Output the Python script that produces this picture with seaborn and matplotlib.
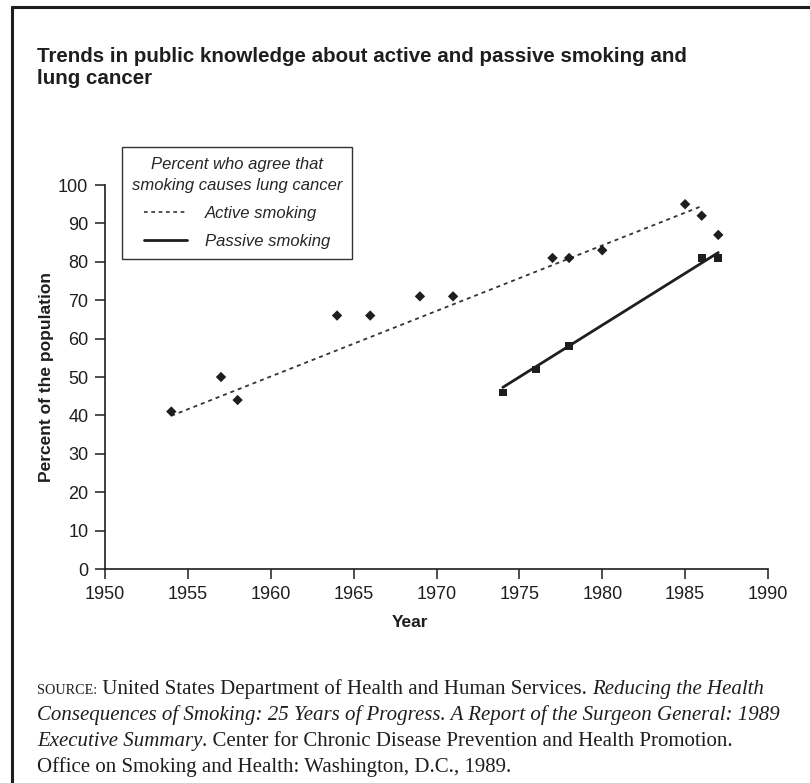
import matplotlib
matplotlib.use("Agg")
import matplotlib.pyplot as plt
import matplotlib.lines as mlines
import seaborn as sns
import pandas as pd

# --- data ---
active_years = [1954, 1957, 1958, 1964, 1966, 1969, 1971, 1977, 1978, 1980, 1985, 1986, 1987]
active_pct = [41, 50, 44, 66, 66, 71, 71, 81, 81, 83, 95, 92, 87]
passive_years = [1974, 1976, 1978, 1986, 1987]
passive_pct = [46, 52, 58, 81, 81]

# trend lines as drawn in the original figure
active_trend_years = [1954, 1986]
active_trend_pct = [39.9, 94.5]
passive_trend_years = [1974, 1987]
passive_trend_pct = [47.3, 82.4]

x_ticks = [1950, 1955, 1960, 1965, 1970, 1975, 1980, 1985, 1990]
y_ticks = [0, 10, 20, 30, 40, 50, 60, 70, 80, 90, 100]

title = "Trends in public knowledge about active and passive smoking and\nlung cancer"
legend_title = "Percent who agree that\nsmoking causes lung cancer"
source_lines = [
    [("SOURCE:", "sc"), (" United States Department of Health and Human Services. ", "normal"),
     ("Reducing the Health", "italic")],
    [("Consequences of Smoking: 25 Years of Progress. A Report of the Surgeon General: 1989", "italic")],
    [("Executive Summary", "italic"), (". Center for Chronic Disease Prevention and Health Promotion.", "normal")],
    [("Office on Smoking and Health: Washington, D.C., 1989.", "normal")],
]

active = pd.DataFrame({"year": active_years, "pct": active_pct})
passive = pd.DataFrame({"year": passive_years, "pct": passive_pct})

sns.set_style("ticks")
sans = ["Liberation Sans", "DejaVu Sans"]
serif = ["Liberation Serif", "DejaVu Serif"]
plt.rcParams["font.family"] = sans
ink = "#1e1e1e"

W, H = 810, 783
fig = plt.figure(figsize=(W / 100, H / 100), dpi=100)
ax = fig.add_axes([105 / W, 1 - 569 / H, 663 / W, 384 / H])

# trend lines
sns.lineplot(x=active_trend_years, y=active_trend_pct, ax=ax, color="#333333",
             linewidth=1.3, linestyle=(0, (2.2, 2.2)))
sns.lineplot(x=passive_trend_years, y=passive_trend_pct, ax=ax, color=ink, linewidth=2.0)

# observations
sns.scatterplot(data=active, x="year", y="pct", ax=ax, marker="D", s=28,
                color=ink, edgecolor="none", zorder=3)
sns.scatterplot(data=passive, x="year", y="pct", ax=ax, marker="s", s=30,
                color=ink, edgecolor="none", zorder=3)

ax.set_xlim(1950, 1990)
ax.set_ylim(0, 100)
ax.set_xticks(x_ticks)
ax.set_yticks(y_ticks)
ax.tick_params(direction="out", length=7, width=1.1, color=ink, labelsize=13,
               labelcolor=ink, pad=5)
sns.despine(ax=ax)
for side in ["left", "bottom"]:
    ax.spines[side].set_linewidth(1.2)
    ax.spines[side].set_color(ink)
ax.set_xlabel("Year", fontsize=12.5, fontweight="bold", color=ink)
ax.set_ylabel("Percent of the population", fontsize=12.5, fontweight="bold", color=ink)
ax.xaxis.set_label_coords(0.46, -0.12)
ax.yaxis.set_label_coords(-0.077, 0.5)

# legend
h_active = mlines.Line2D([], [], color="#333333", linewidth=1.2, linestyle=(0, (2.2, 2.2)),
                         label="Active smoking")
h_passive = mlines.Line2D([], [], color=ink, linewidth=2.0, label="Passive smoking")
leg = ax.legend(handles=[h_active, h_passive], title=legend_title,
                loc="upper left", bbox_to_anchor=(122 / W, 1 - 147 / H),
                bbox_transform=fig.transFigure, borderaxespad=0, fancybox=False,
                framealpha=1, edgecolor="#333333", prop={"size": 12.0, "style": "italic"},
                handlelength=2.6, handletextpad=1.05, borderpad=0.6, labelspacing=0.78)
leg.get_title().set_fontstyle("italic")
leg.get_title().set_fontsize(12.0)
leg.get_title().set_multialignment("center")
leg.get_title().set_linespacing(1.5)
leg.get_frame().set_linewidth(1.0)

# title
fig.text(37 / W, 1 - 47 / H, title, ha="left", va="top", fontsize=14.8,
         fontweight="bold", color=ink, linespacing=1.2)

# source note with mixed styles
fig.canvas.draw()
renderer = fig.canvas.get_renderer()


def seg_width(txt, **kw):
    a = fig.text(0, 0, "|" + txt + "|", **kw)
    b = fig.text(0, 0, "||", **kw)
    w = a.get_window_extent(renderer).width - b.get_window_extent(renderer).width
    a.remove()
    b.remove()
    return w


src_size = 15.0
y = 694
for line in source_lines:
    x = 37
    for txt, style in line:
        kw = dict(family=serif, color=ink, fontsize=src_size)
        if style == "sc":
            kw["fontsize"] = src_size * 0.68
        else:
            kw["style"] = style
        fig.text(x / W, 1 - y / H, txt, ha="left", va="baseline", **kw)
        x += seg_width(txt, **kw)
    y += 26

# frame lines of the original panel
fig.add_artist(mlines.Line2D([12 / W, 1], [1 - 6.5 / H, 1 - 6.5 / H], color=ink, linewidth=2.2,
                             transform=fig.transFigure))
fig.add_artist(mlines.Line2D([12 / W, 12 / W], [1 - 6.5 / H, 0], color=ink, linewidth=2.2,
                             transform=fig.transFigure))

fig.savefig("out.png", dpi=100, facecolor="white")
